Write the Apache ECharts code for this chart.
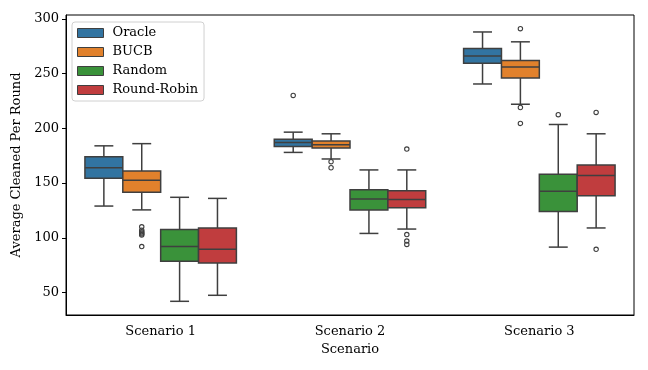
<!DOCTYPE html>
<html>
<head>
<meta charset="utf-8">
<title>Average Cleaned Per Round</title>
<script src="https://cdn.jsdelivr.net/npm/echarts@6/dist/echarts.min.js"></script>
<style>
html, body { margin: 0; padding: 0; background: #fff; }
#main { width: 648px; height: 370px; }
</style>
</head>
<body>
<div id="main"></div>
<script>
var categories = ['Scenario 1', 'Scenario 2', 'Scenario 3'];
var algorithms = ['Oracle', 'BUCB', 'Random', 'Round-Robin'];
var colors = ['#3274a1', '#e1812c', '#3a923a', '#c03d3e'];
var yTicks = [50, 100, 150, 200, 250, 300];

// [lower whisker, Q1, median, Q3, upper whisker] for each scenario
var oracleBoxes = [[129, 154.5, 164, 174, 184], [178, 183.5, 187, 190, 196.5], [240.5, 259.5, 266, 273, 288]];
var bucbBoxes = [[125.5, 141.5, 152.5, 161, 186], [172, 182, 185, 188.5, 195], [222, 246, 256, 262, 279]];
var randomBoxes = [[42, 78.5, 92, 107.5, 137], [104, 125.5, 135.5, 144, 162], [91.5, 124, 142.5, 158, 203.5]];
var robinBoxes = [[47.5, 77, 89.5, 109, 136], [108, 127.5, 135, 143, 162], [109, 138.5, 157, 166.5, 195]];

// outliers for each scenario
var oracleOut = [[], [230], []];
var bucbOut = [[110, 107, 105.5, 104.5, 103.5, 102.5, 92], [169.5, 164], [291, 219, 204.5]];
var randomOut = [[], [], [212.5]];
var robinOut = [[], [181, 103, 97, 94], [214.5, 89.5]];

var allBoxes = [oracleBoxes, bucbBoxes, randomBoxes, robinBoxes];
var allOut = [oracleOut, bucbOut, randomOut, robinOut];

var lineColor = '#3f3f3f';
var font = 'DejaVu Serif';
var fontSize = 13;

// 每个算法在类别内的偏移
function boxGeom(api, k) {
    var band = api.size([1, 0])[0];
    var w = band * 0.2;
    var cx = api.coord([api.value(0), 0])[0] + (k - 1.5) * w;
    return { cx: cx, w: w };
}

function makeBoxRender(k) {
    return function (params, api) {
        var g = boxGeom(api, k);
        var cat = api.value(0);
        var lo = api.coord([cat, api.value(1)])[1];
        var q1 = api.coord([cat, api.value(2)])[1];
        var med = api.coord([cat, api.value(3)])[1];
        var q3 = api.coord([cat, api.value(4)])[1];
        var hi = api.coord([cat, api.value(5)])[1];
        var half = g.w / 2;
        var cap = g.w / 4;
        var ls = { stroke: lineColor, lineWidth: 1.5 };
        return {
            type: 'group',
            children: [
                { type: 'line', shape: { x1: g.cx, y1: q1, x2: g.cx, y2: lo }, style: ls },
                { type: 'line', shape: { x1: g.cx, y1: q3, x2: g.cx, y2: hi }, style: ls },
                { type: 'line', shape: { x1: g.cx - cap, y1: lo, x2: g.cx + cap, y2: lo }, style: ls },
                { type: 'line', shape: { x1: g.cx - cap, y1: hi, x2: g.cx + cap, y2: hi }, style: ls },
                {
                    type: 'rect',
                    shape: { x: g.cx - half, y: q3, width: g.w, height: q1 - q3 },
                    style: { fill: colors[k], stroke: lineColor, lineWidth: 1.5 }
                },
                { type: 'line', shape: { x1: g.cx - half, y1: med, x2: g.cx + half, y2: med }, style: ls }
            ]
        };
    };
}

function renderOutlier(params, api) {
    var g = boxGeom(api, api.value(2));
    var y = api.coord([api.value(0), api.value(1)])[1];
    return {
        type: 'circle',
        shape: { cx: g.cx, cy: y, r: 2.2 },
        style: { fill: 'none', stroke: lineColor, lineWidth: 1.1 }
    };
}

var series = [];
algorithms.forEach(function (name, k) {
    series.push({
        name: name,
        type: 'custom',
        renderItem: makeBoxRender(k),
        itemStyle: { color: colors[k], borderColor: lineColor, borderWidth: 1 },
        encode: { x: 0, y: [1, 2, 3, 4, 5] },
        data: allBoxes[k].map(function (b, i) { return [i].concat(b); })
    });
});

var outData = [];
allOut.forEach(function (list, k) {
    list.forEach(function (vals, i) {
        vals.forEach(function (v) { outData.push([i, v, k]); });
    });
});
series.push({
    type: 'custom',
    renderItem: renderOutlier,
    encode: { x: 0, y: 1 },
    data: outData
});

var chart = echarts.init(document.getElementById('main'));
chart.setOption({
    animation: false,
    textStyle: { fontFamily: font },
    grid: {
        left: 66, right: 14, top: 15, bottom: 55,
        show: true, borderColor: '#000', borderWidth: 1, backgroundColor: 'transparent'
    },
    legend: {
        orient: 'vertical',
        left: 72, top: 22,
        icon: 'rect',
        itemWidth: 26, itemHeight: 9,
        itemGap: 5,
        padding: [4, 6, 4, 5],
        borderColor: '#d0d0d0', borderWidth: 1, borderRadius: 3,
        backgroundColor: 'rgba(255,255,255,0.8)',
        textStyle: { fontFamily: font, fontSize: fontSize, color: '#000', lineHeight: 14, padding: [0, 0, 0, 4] },
        data: algorithms.map(function (n, k) {
            return { name: n, itemStyle: { color: colors[k], borderColor: lineColor, borderWidth: 1 } };
        })
    },
    xAxis: {
        type: 'category',
        data: categories,
        name: 'Scenario',
        nameLocation: 'middle',
        nameGap: 26,
        nameTextStyle: { fontFamily: font, fontSize: fontSize, color: '#000' },
        axisLine: { lineStyle: { color: '#000', width: 1 } },
        axisTick: { alignWithLabel: true, length: 4, lineStyle: { color: '#000' } },
        axisLabel: { fontFamily: font, fontSize: fontSize, color: '#000', margin: 10 },
        splitLine: { show: false }
    },
    yAxis: {
        type: 'value',
        min: 29.5,
        max: 303.5,
        name: 'Average Cleaned Per Round',
        nameLocation: 'middle',
        nameGap: 37,
        nameTextStyle: { fontFamily: font, fontSize: fontSize, color: '#000' },
        axisLine: { show: true, lineStyle: { color: '#000', width: 1 } },
        axisTick: { show: true, length: 4, lineStyle: { color: '#000' }, customValues: yTicks },
        axisLabel: { fontFamily: font, fontSize: fontSize, color: '#000', margin: 7, customValues: yTicks },
        splitLine: { show: false }
    },
    series: series
});
</script>
</body>
</html>
